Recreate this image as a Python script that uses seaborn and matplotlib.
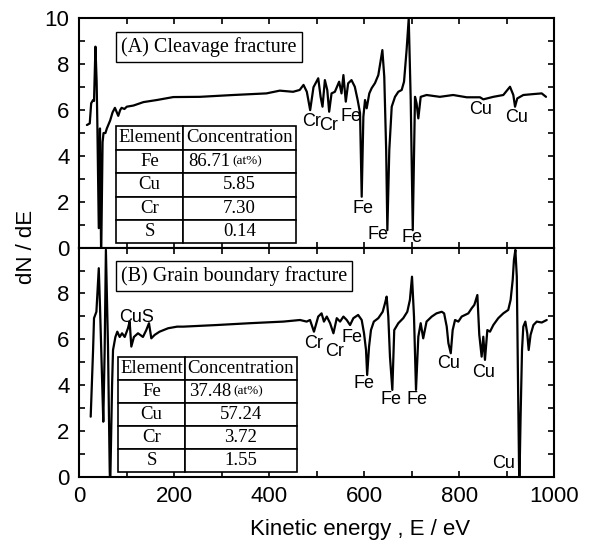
import matplotlib
matplotlib.use("Agg")
import matplotlib.pyplot as plt
import seaborn as sns
import pandas as pd
import numpy as np
from matplotlib.ticker import MultipleLocator

# Auger spectrum (A) cleavage fracture
energy_a = [16, 22, 25, 29, 31, 34, 36.5, 38, 41, 43.5, 46, 49, 51, 55, 58, 65, 70, 75, 79,
            82, 86, 89, 95, 100, 114, 135, 163, 198, 254, 324, 394, 422, 450, 464, 472,
            479, 486, 493, 503, 508, 512, 517, 522, 526, 531, 538, 547, 552, 556, 561,
            566, 573, 580, 586, 591, 594.5, 598, 601.5, 605, 610.5, 615.5, 622.5, 629.5,
            638, 642, 646, 648.5, 652.6, 657.7, 664.6, 671.6, 678.7, 683.6, 689, 693.5,
            697.7, 702, 706.7, 710, 713.7, 718.7, 731, 759, 787, 815.6, 843.6, 850.5,
            871.6, 892.6, 906.7, 913.7, 917.3, 922, 934.7, 955.8, 973.5, 982.5]
signal_a = [5.35, 5.42, 6.3, 6.44, 6.4, 8.77, 7.24, 5.4, 0.85, 5.2, -0.5, 4.6, 5.0, 5.0, 5.2,
            5.55, 5.9, 6.1, 5.9, 5.75, 6.0, 6.1, 6.05, 6.15, 6.2, 6.35, 6.44, 6.57, 6.58,
            6.66, 6.73, 6.85, 6.8, 6.88, 7.1, 6.8, 6.0, 7.0, 7.39, 6.58, 6.15, 7.31, 6.88,
            5.93, 6.73, 6.8, 7.24, 6.73, 7.53, 6.37, 7.17, 7.31, 7.02, 6.44, 5.87, 2.22,
            5.71, 6.44, 6.08, 6.73, 6.96, 7.18, 7.53, 8.62, 7.46, 4.26, 0.76, 4.26, 6.15,
            6.58, 6.8, 6.88, 7.24, 8.62, 10.0, 6.44, 0.76, 6.58, 6.3, 5.64, 6.58, 6.66,
            6.58, 6.66, 6.56, 6.56, 6.47, 6.58, 6.66, 7.02, 6.66, 6.15, 6.51, 6.66, 6.7,
            6.73, 6.58]

# Auger spectrum (B) grain boundary fracture
energy_b = [24, 29, 31, 36, 41, 43.6, 48, 50.5, 53.4, 56, 60.4, 64, 65, 69, 71, 76, 80, 85,
            90, 95.6, 102.5, 106, 109.5, 115, 123.6, 134, 141, 146.7, 151.6, 158.7, 169,
            187, 206, 219, 289, 359, 429.5, 464.6, 478.7, 485.7, 494, 503, 510, 515, 521,
            528, 535, 542, 549, 556, 563, 570, 577, 587, 594.5, 599.4, 603.6, 606, 610,
            614, 620, 629.5, 638.7, 643.6, 647, 650.5, 654, 659, 663, 671.6, 682, 690.5,
            696, 700.4, 704.6, 708.8, 713.7, 718.7, 724, 731, 742, 752, 763, 768, 773.5,
            777, 782, 786, 791, 798, 805, 812, 819, 826, 831.6, 838, 842, 847, 850.5, 854,
            859, 864.6, 871.6, 882, 892.6, 903, 908, 912.4, 915, 918, 921, 923.6, 926.3,
            929, 932, 934.7, 939, 943, 946, 950, 956, 963, 973.5, 984]
signal_b = [2.62, 5.53, 6.92, 7.2, 9.1, 7.42, 4.22, 2.4, 5.53, 9.9, 5.7, 0.3, -0.5, 4.0,
            5.53, 6.1, 6.33, 6.1, 6.26, 6.1, 6.48, 6.77, 5.68, 6.1, 6.26, 6.1, 6.4, 6.7,
            6.04, 6.19, 6.33, 6.48, 6.55, 6.55, 6.62, 6.7, 6.77, 6.84, 6.77, 6.84, 6.33,
            6.99, 7.13, 6.77, 6.99, 6.7, 6.26, 6.92, 6.77, 6.99, 6.84, 6.62, 6.92, 7.06,
            6.84, 6.26, 5.53, 4.44, 5.68, 6.4, 6.77, 6.92, 7.2, 7.57, 7.86, 6.99, 5.24,
            3.79, 6.4, 6.7, 6.92, 7.2, 7.72, 8.73, 6.99, 3.79, 6.11, 6.7, 6.04, 6.77, 6.99,
            7.13, 7.2, 7.13, 6.55, 5.83, 5.39, 6.4, 6.84, 6.77, 6.99, 7.06, 7.13, 7.35, 7.5,
            7.93, 6.2, 5.24, 6.11, 5.1, 6.4, 6.33, 6.62, 6.92, 7.13, 7.28, 7.72, 8.59, 9.46,
            9.9, 8.73, 4.08, -0.5, 2.62, 5.53, 6.55, 6.77, 6.26, 5.53, 6.19, 6.62, 6.77,
            6.73, 6.84]

# peak labels
peak_names_a = ["Cr", "Cr", "Fe", "Fe", "Fe", "Fe", "Cu", "Cu"]
peak_x_a = [488, 524, 571, 597, 629, 701, 844, 921]
peak_y_a = [5.5, 5.35, 5.74, 1.72, 0.55, 0.45, 6.03, 5.69]

peak_names_b = ["CuS", "Cr", "Cr", "Fe", "Fe", "Fe", "Fe", "Cu", "Cu", "Cu"]
peak_x_b = [120, 493, 538, 575, 600, 656, 710, 777, 851, 893]
peak_y_b = [6.95, 5.8, 5.46, 6.08, 4.05, 3.35, 3.35, 4.95, 4.57, 0.58]

# composition tables
elements = ["Fe", "Cu", "Cr", "S"]
conc_a = ["86.71", "5.85", "7.30", "0.14"]
conc_b = ["37.48", "57.24", "3.72", "1.55"]

sns.set_style("ticks")
plt.rcParams["font.family"] = ["Liberation Sans", "DejaVu Sans"]
plt.rcParams["text.color"] = "black"
plt.rcParams["xtick.color"] = "black"
plt.rcParams["ytick.color"] = "black"
plt.rcParams["axes.edgecolor"] = "black"
SERIF = ["Liberation Serif", "DejaVu Serif"]


def draw_panel(ax, energy, signal, names, px, py, conc, title, tbox):
    sns.lineplot(x=energy, y=signal, ax=ax, color="black", lw=1.6,
                 sort=False, estimator=None)
    ax.set_xlim(0, 1000)
    ax.set_ylim(0, 10)
    ax.xaxis.set_major_locator(MultipleLocator(200))
    ax.xaxis.set_minor_locator(MultipleLocator(100))
    ax.yaxis.set_major_locator(MultipleLocator(2))
    ax.yaxis.set_minor_locator(MultipleLocator(1))
    ax.tick_params(which="both", direction="in", top=True, right=True,
                   length=4, width=1.2, labelsize=16, pad=7, colors="black")
    for s in ax.spines.values():
        s.set_linewidth(1.5)
    ax.set_xlabel("")
    ax.set_ylabel("")

    for n, x, y in zip(names, px, py):
        ax.text(x, y, n, ha="center", va="center", fontsize=13)

    ax.text(0.088, 0.877, title, transform=ax.transAxes, ha="left", va="center",
            fontsize=14.5, family=SERIF,
            bbox=dict(boxstyle="square,pad=0.25", fc="white", ec="black", lw=1.0))

    x0, y0, w, h = tbox
    c1 = 0.374
    cells = [[e, ""] if i == 0 else [e, c] for i, (e, c) in enumerate(zip(elements, conc))]
    tab = ax.table(cellText=cells, colLabels=["Element", "Concentration"],
                   cellLoc="center", colWidths=[c1, 1 - c1], bbox=[x0, y0, w, h])
    tab.auto_set_font_size(False)
    tab.set_fontsize(13.5)
    tab.set_zorder(5)
    for cell in tab.get_celld().values():
        cell.set_linewidth(1.2)
        cell.set_facecolor("white")
        cell.PAD = 0.02
        cell.get_text().set_fontfamily(SERIF)
    # first value carries the unit in small type
    xc = x0 + w * (c1 + (1 - c1) / 2)
    yc = y0 + h * 3.5 / 5
    ax.text(xc - 0.02, yc, conc[0], transform=ax.transAxes, ha="right", va="center",
            fontsize=13.5, family=SERIF, zorder=6)
    ax.text(xc - 0.016, yc, "(at%)", transform=ax.transAxes, ha="left", va="center",
            fontsize=9.5, family=SERIF, zorder=6)


fig = plt.figure(figsize=(5.94, 5.45), dpi=100)
ax_a = fig.add_axes([0.1335, 0.5457, 0.7997, 0.4204])
ax_b = fig.add_axes([0.1335, 0.1253, 0.7997, 0.4204])

draw_panel(ax_a, energy_a, signal_a, peak_names_a, peak_x_a, peak_y_a, conc_a,
           "(A) Cleavage fracture", [0.077, 0.018, 0.379, 0.512])
draw_panel(ax_b, energy_b, signal_b, peak_names_b, peak_x_b, peak_y_b, conc_b,
           "(B) Grain boundary fracture", [0.082, 0.022, 0.376, 0.500])

ax_a.tick_params(labelbottom=False)
ax_b.set_yticks([0, 2, 4, 6, 8])
ax_b.yaxis.set_minor_locator(MultipleLocator(1))

fig.text(0.045, 0.546, "dN / dE", rotation=90, ha="center", va="center", fontsize=16)
fig.text(0.606, 0.029, "Kinetic energy , E / eV", ha="center", va="center", fontsize=16)

fig.savefig("out.png", dpi=100)
